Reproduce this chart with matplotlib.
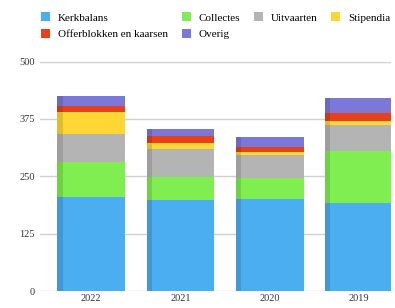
import numpy as np
import matplotlib.pyplot as plt

years = ['2022', '2021', '2020', '2019']
series = ['Kerkbalans', 'Collectes', 'Uitvaarten', 'Stipendia',
          'Offerblokken en kaarsen', 'Overig']
kerkbalans = [204, 198, 201, 191]
collectes = [78, 50, 46, 114]
uitvaarten = [61, 62, 50, 57]
stipendia = [47, 12, 7, 9]
offerblokken = [14, 15, 9, 18]
overig = [20, 17, 22, 32]
colors = ['#4aaef0', '#80ee50', '#b4b4b4', '#ffd633', '#e8401c', '#7b78d8']

values = [kerkbalans, collectes, uitvaarten, stipendia, offerblokken, overig]

plt.rcParams['font.family'] = ['Liberation Serif', 'DejaVu Serif']

fig = plt.figure(figsize=(3.95, 3.08), dpi=100)
ax = fig.add_axes([0.1, 0.055, 0.89, 0.745])

x = np.arange(len(years))
w = 0.76
bottom = np.zeros(len(years))
handles = {}
for name, vals, c in zip(series, values, colors):
    vals = np.array(vals)
    b = ax.bar(x, vals, w, bottom=bottom, color=c, zorder=3, label=name)
    # darker side strip for a bit of depth
    ax.bar(x - w / 2 + 0.03, vals, 0.06, bottom=bottom, color='black',
           alpha=0.12, zorder=4, linewidth=0)
    handles[name] = b
    bottom += vals

ax.set_ylim(0, 500)
ax.set_xlim(-0.58, 3.36)
ax.set_yticks([0, 125, 250, 375, 500])
ax.yaxis.grid(True, color='#d0d0d0', linewidth=1, zorder=0)
ax.set_xticks(x)
ax.set_xticklabels(years)
ax.tick_params(axis='both', length=0, labelsize=7.5, colors='#333333')
ax.tick_params(axis='x', pad=2)
for s in ax.spines.values():
    s.set_visible(False)

order = ['Kerkbalans', 'Offerblokken en kaarsen', 'Collectes', 'Overig',
         'Uitvaarten', 'Stipendia']
fig.legend([handles[n] for n in order], order, loc='upper left',
           bbox_to_anchor=(0.085, 0.985), ncol=4, frameon=False, fontsize=8,
           handlelength=0.8, handleheight=0.8, handletextpad=0.7,
           columnspacing=1.25, labelspacing=0.6, borderaxespad=0.3)

fig.savefig('out.png', dpi=100)
